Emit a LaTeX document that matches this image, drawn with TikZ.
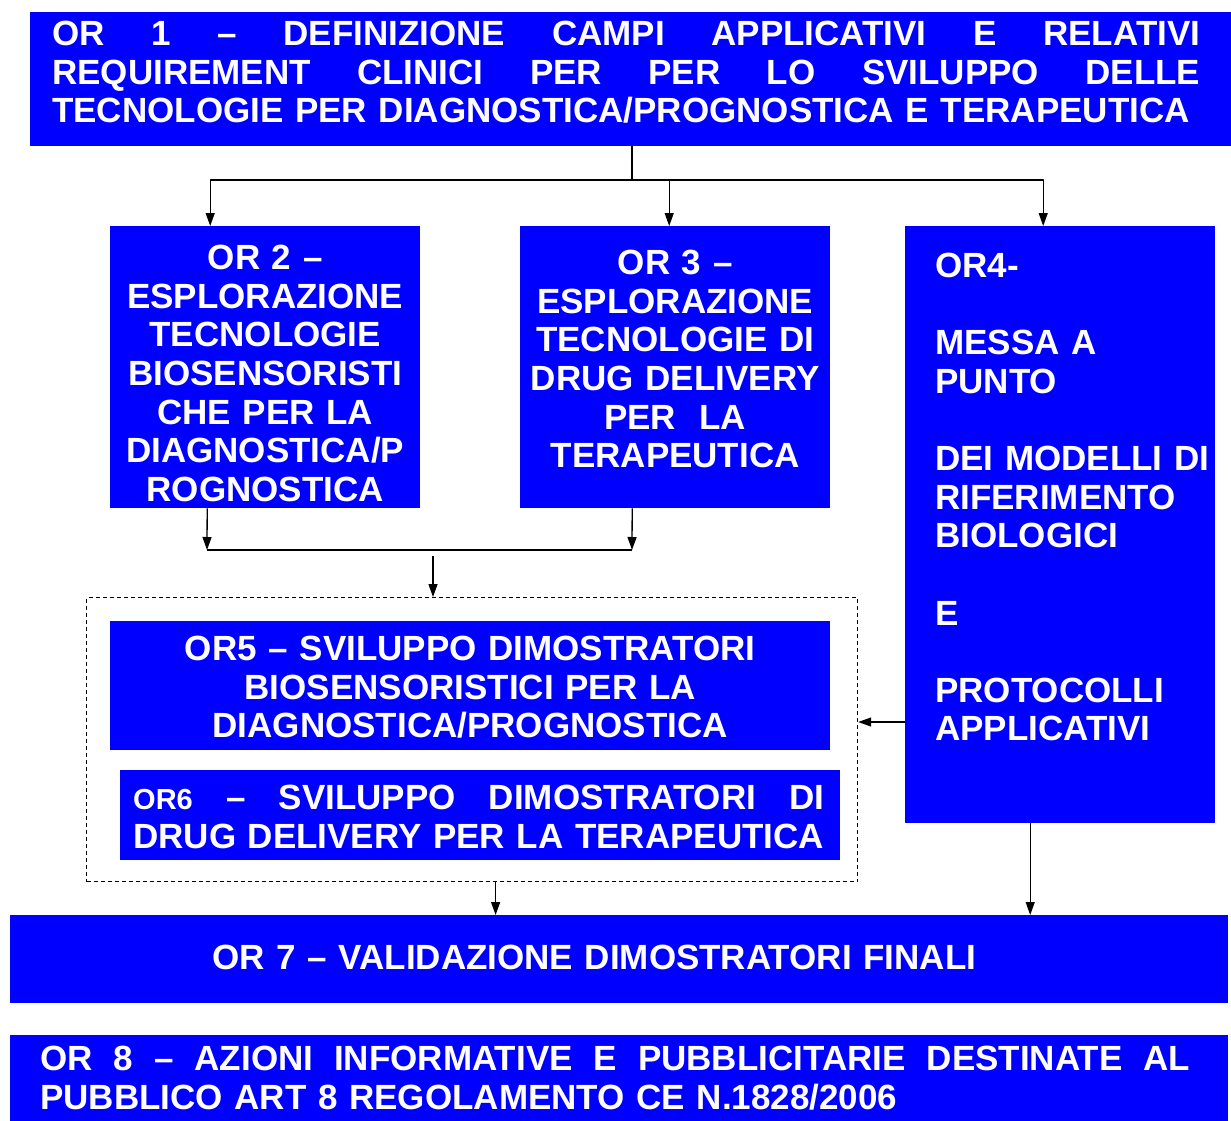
\documentclass[tikz,border=0pt]{standalone}
\usepackage{fontspec}
\setmainfont{Liberation Sans}
\usetikzlibrary{arrows.meta}
\definecolor{orblue}{RGB}{0,0,255}
\begin{document}
\begin{tikzpicture}[x=1pt,y=-1pt,>={Triangle[length=13pt,width=9pt]},line join=round,
	font=\fontsize{35}{38.6}\selectfont\bfseries,
	box/.style={fill=orblue,text=white,anchor=north west,inner xsep=0pt,inner ysep=0pt},
	conn/.style={->,line width=1.3pt}]
	\useasboundingbox (0,0) rectangle (1231,1121);
	% obiettivi realizzativi
	\node[box,text width=1157pt,inner xsep=22pt,text height=33.5pt,text depth=100.5pt,align=left] (or1) at (30,12)
	{\makebox[1148pt][l]{OR\hfill 1\hfill –\hfill DEFINIZIONE\hfill CAMPI\hfill APPLICATIVI\hfill E\hfill RELATIVI}\\
		\makebox[1148pt][l]{REQUIREMENT\hfill CLINICI\hfill PER\hfill PER\hfill LO\hfill SVILUPPO\hfill DELLE}\\
		TECNOLOGIE PER DIAGNOSTICA/PROGNOSTICA E TERAPEUTICA};
	\node[box,text width=310pt,text height=43.5pt,text depth=238.5pt,align=center] (or2) at (110,226)
	{OR 2 –\\ESPLORAZIONE\\TECNOLOGIE\\BIOSENSORISTI\\CHE PER LA\\DIAGNOSTICA/P\\ROGNOSTICA};
	\node[box,text width=310pt,text height=48.5pt,text depth=233.5pt,align=center] (or3) at (520,226)
	{OR 3 –\\ESPLORAZIONE\\TECNOLOGIE DI\\DRUG DELIVERY\\PER\ \ LA\\TERAPEUTICA};
	\node[box,text width=310pt,text height=51.5pt,text depth=545.5pt,align=left] (or4) at (905,226)
	{\hspace*{30pt}\parbox[t]{280pt}{OR4-\\~\\MESSA A\\PUNTO\\~\\DEI MODELLI DI\\RIFERIMENTO\\BIOLOGICI\\~\\E\\~\\PROTOCOLLI\\APPLICATIVI}};
	\node[draw,dash pattern=on 4pt off 3pt,line width=1.2pt,minimum width=771pt,minimum height=284pt,anchor=north west,inner sep=0pt] (grp) at (86,597) {};
	\node[box,text width=720pt,text height=39.5pt,text depth=89.5pt,align=center] (or5) at (110,621)
	{OR5 – SVILUPPO DIMOSTRATORI\\BIOSENSORISTICI PER LA\\DIAGNOSTICA/PROGNOSTICA};
	\node[box,text width=694pt,inner xsep=13pt,text height=39.5pt,text depth=50.5pt,align=left] (or6) at (120,770)
	{\makebox[691pt][l]{{\fontsize{29}{38.6}\selectfont OR6}\hfill –\hfill SVILUPPO\hfill DIMOSTRATORI\hfill DI}\\
		DRUG DELIVERY PER LA TERAPEUTICA};
	\node[box,text width=1218pt,text height=54.5pt,text depth=33.5pt,align=left] (or7) at (10,915)
	{\hspace*{202pt}OR 7 – VALIDAZIONE DIMOSTRATORI FINALI};
	\node[box,text width=1158pt,inner xsep=30pt,text height=35.5pt,text depth=54.5pt,align=left] (or8) at (10,1035)
	{\makebox[1150pt][l]{OR\hfill 8\hfill –\hfill AZIONI\hfill INFORMATIVE\hfill E\hfill PUBBLICITARIE\hfill DESTINATE\hfill AL}\\
		PUBBLICO ART 8 REGOLAMENTO CE N.1828/2006};
	% collegamenti
	\coordinate (j1) at (632,180);
	\draw[line width=1.3pt] (or1.south -| j1) -- (j1);
	\draw[conn] (j1) -| ([xshift=-55pt]or2.north);
	\draw[conn] (j1) -| ([xshift=-6pt]or3.north);
	\draw[conn] (j1) -| ([xshift=-17pt]or4.north);
	\coordinate (j2) at (207,550);
	\coordinate (j3) at (632,550);
	\draw[conn] ([xshift=-58pt]or2.south) -- (j2);
	\draw[conn] ([xshift=-43pt]or3.south) -- (j3);
	\draw[line width=1.3pt] (j2) -- (j3);
	\coordinate (j4) at (433,556);
	\draw[conn] (j4) -- (j4 |- grp.north);
	\coordinate (j5) at (905,722);
	\draw[conn] (j5) -- (j5 -| grp.east);
	\coordinate (j6) at ([xshift=23.5pt]grp.south);
	\draw[conn] (j6) -- (j6 |- or7.north);
	\coordinate (j7) at ([xshift=-30pt]or4.south);
	\draw[conn] (j7) -- (j7 |- or7.north);
\end{tikzpicture}
\end{document}
